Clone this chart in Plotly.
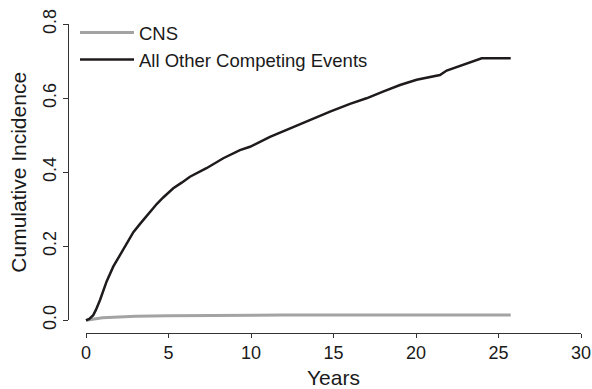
import plotly.graph_objects as go

# ---------------- data ----------------
other_years = [0, 0.2, 0.44, 0.6, 0.85, 1.05, 1.25, 1.65, 2.0, 2.26, 2.87, 3.3, 3.88, 4.3,
               4.68, 5.29, 5.8, 6.3, 7.3, 8.32, 9.33, 9.94, 11.15, 12.36, 13.58, 14.79,
               16.0, 17.0, 18.0, 19.03, 20.04, 21.45, 21.86, 23.07, 23.98, 25.74]
other_cif = [0, 0.004, 0.014, 0.028, 0.055, 0.08, 0.105, 0.145, 0.172, 0.19, 0.238, 0.262,
             0.294, 0.315, 0.332, 0.357, 0.372, 0.388, 0.411, 0.438, 0.46, 0.469, 0.496,
             0.519, 0.543, 0.564, 0.585, 0.60, 0.618, 0.636, 0.65, 0.663, 0.675, 0.695,
             0.708, 0.708]

cns_years = [0, 0.5, 1, 2, 3, 5, 8, 12, 25.74]
cns_cif = [0, 0.004, 0.007, 0.009, 0.011, 0.012, 0.013, 0.014, 0.014]

x_ticks = [0, 5, 10, 15, 20, 25, 30]
y_ticks = [0.0, 0.2, 0.4, 0.6, 0.8]
y_tick_text = ["0.0", "0.2", "0.4", "0.6", "0.8"]

series_names = ["CNS", "All Other Competing Events"]

# ---------------- layout geometry ----------------
W, H = 592, 389
X0_PX, X30_PX = 86.0, 581.0      # pixel of x=0 and x=30
Y0_PX, Y08_PX = 320.3, 24.3      # pixel of y=0 and y=0.8
XAX_PX = 332.5                   # x-axis line (pixel row)
YAX_PX = 67.7                    # y-axis line (pixel column)

sx = (X30_PX - X0_PX) / 30.0
sy = (Y0_PX - Y08_PX) / 0.8

# padded data region for the traces (R-style 4% padding)
main_left, main_right = 66.2, 589.0
main_bottom, main_top = 332.1, 12.5
xr = [(main_left - X0_PX) / sx, (main_right - X0_PX) / sx]
yr = [(Y0_PX - main_bottom) / sy, (Y0_PX - main_top) / sy]

FONT = "Liberation Sans, Arial, Helvetica, sans-serif"
TXT = "#1a1a1a"
AXC = "#333333"

fig = go.Figure()
fig.add_trace(go.Scatter(x=cns_years, y=cns_cif, mode="lines", name=series_names[0],
                         legendgroup="g1",
                         line=dict(color="#a3a3a3", width=3)))
fig.add_trace(go.Scatter(x=other_years, y=other_cif, mode="lines", name=series_names[1],
                         legendgroup="g2",
                         line=dict(color="#1f1b1c", width=2.5)))
# empty trace to host the decorative R-style axes
fig.add_trace(go.Scatter(x=[], y=[], xaxis="x2", yaxis="y2", showlegend=False,
                         hoverinfo="skip"))

fig.update_layout(
    width=W, height=H,
    margin=dict(l=0, r=0, t=0, b=0, autoexpand=False),
    paper_bgcolor="white",
    plot_bgcolor="rgba(0,0,0,0)",
    font=dict(family=FONT, color=TXT),
    xaxis=dict(domain=[main_left / W, main_right / W], range=xr, visible=False,
               anchor="y", automargin=False),
    yaxis=dict(domain=[1 - main_bottom / H, 1 - main_top / H], range=yr, visible=False,
               anchor="x", automargin=False),
    xaxis2=dict(domain=[X0_PX / W, X30_PX / W], range=[0, 30], anchor="free",
                position=1 - XAX_PX / H, showline=True, linecolor=AXC, linewidth=1,
                ticks="outside", ticklen=4, tickcolor=AXC, tickwidth=1,
                tickvals=x_ticks, tickfont=dict(size=18, family=FONT, color=TXT),
                showgrid=False, zeroline=False, automargin=False,
                title=dict(text="Years", font=dict(size=21, family=FONT, color=TXT),
                           standoff=8)),
    yaxis2=dict(domain=[1 - Y0_PX / H, 1 - Y08_PX / H], range=[0, 0.8], anchor="free",
                position=YAX_PX / W, showline=True, linecolor=AXC, linewidth=1,
                ticks="outside", ticklen=5, tickcolor=AXC, tickwidth=1,
                tickvals=y_ticks, ticktext=y_tick_text, tickangle=-90,
                tickfont=dict(size=18, family=FONT, color=TXT),
                showgrid=False, zeroline=False, automargin=False,
                title=dict(text="Cumulative Incidence",
                           font=dict(size=21, family=FONT, color=TXT), standoff=6)),
    legend=dict(x=75 / W, y=1 - 14 / H, xanchor="left", yanchor="top",
                bgcolor="rgba(0,0,0,0)", borderwidth=0, itemwidth=54,
                tracegroupgap=2,
                font=dict(size=18.5, family=FONT, color=TXT), traceorder="normal"),
    showlegend=True,
)

fig.write_html("out.html")
